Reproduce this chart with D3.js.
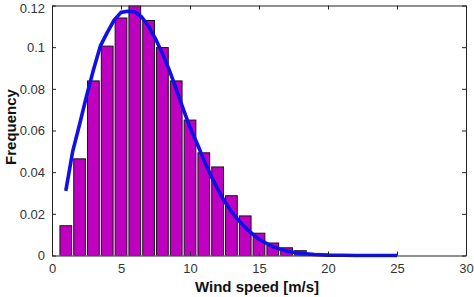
<!DOCTYPE html>
<html>
<head>
<meta charset="utf-8">
<script src="https://cdn.jsdelivr.net/npm/d3@7"></script>
<style>
  body { margin: 0; background: #fff; }
  svg { display: block; font-family: Arial, "Liberation Sans", sans-serif; }
  .tick text { fill: #333; font-size: 13px; }
  .tick line { stroke: #222; }
  .domain { stroke: #222; }
</style>
</head>
<body>
<div id="chart"></div>
<script>
var width = 474, height = 297;
var margin = {top: 5.5, right: 8, bottom: 41.5, left: 52};

// histogram bars (bin centre, relative frequency)
var binCenters = [1, 2, 3, 4, 5, 6, 7, 8, 9, 10, 11, 12, 13, 14, 15, 16, 17, 18, 19, 20];
var binFreq = [0.0143, 0.0464, 0.0838, 0.1005, 0.114, 0.121, 0.1128, 0.0998, 0.0838, 0.065,
               0.0493, 0.0425, 0.0287, 0.019, 0.0107, 0.006, 0.0037, 0.0023, 0.001, 0.0005];

// fitted curve
var fitX = [1, 1.5, 2, 2.5, 3, 3.5, 4, 4.5, 5, 5.5, 6, 6.5, 7, 7.5, 8, 8.5, 9, 9.5, 10, 10.5, 11, 11.5, 12, 12.5,
            13, 13.5, 14, 14.5, 15, 16, 17, 18, 19, 20, 21, 22, 23, 24, 25];
var fitY = [0.031, 0.05, 0.063, 0.0765, 0.089, 0.1005, 0.107, 0.113, 0.1167, 0.1172, 0.117, 0.1145, 0.11, 0.104,
            0.097, 0.089, 0.08, 0.0705, 0.0615, 0.054, 0.046, 0.0385, 0.032, 0.026, 0.021, 0.017, 0.0135, 0.0105,
            0.0078, 0.0042, 0.0021, 0.001, 0.0005, 0.0002, 0.0001, 0, 0, 0, 0];

var xTicks = [0, 5, 10, 15, 20, 25, 30];
var yTicks = [0, 0.02, 0.04, 0.06, 0.08, 0.1, 0.12];

var svg = d3.select('#chart').append('svg')
  .attr('width', width)
  .attr('height', height);

var x = d3.scaleLinear().domain([0, 30]).range([margin.left, width - margin.right]);
var y = d3.scaleLinear().domain([0, 0.12]).range([height - margin.bottom, margin.top]);

svg.append('clipPath').attr('id', 'plotclip')
  .append('rect')
  .attr('x', x(0)).attr('y', y(0.12))
  .attr('width', x(30) - x(0)).attr('height', y(0) - y(0.12));

var barW = 0.85;
svg.append('g').attr('clip-path', 'url(#plotclip)')
  .selectAll('rect')
  .data(binCenters)
  .enter()
  .append('rect')
  .attr('x', function (d) { return x(d - barW / 2); })
  .attr('width', function (d) { return x(d + barW / 2) - x(d - barW / 2); })
  .attr('y', function (d, i) { return y(binFreq[i]); })
  .attr('height', function (d, i) { return y(0) - y(binFreq[i]); })
  .style('fill', '#c000c0')
  .style('stroke', '#1a101a')
  .style('stroke-width', 1);

var line = d3.line()
  .x(function (d) { return x(d); })
  .y(function (d, i) { return y(fitY[i]); });

svg.append('path')
  .datum(fitX)
  .attr('d', line)
  .style('fill', 'none')
  .style('stroke', '#1010e8')
  .style('stroke-width', 3.6)
  .style('stroke-linejoin', 'round');

// axes, ticks pointing inwards like matlab
svg.append('g')
  .attr('transform', 'translate(0,' + y(0) + ')')
  .call(d3.axisBottom(x).tickValues(xTicks).tickSize(-4).tickSizeOuter(0).tickPadding(8).tickFormat(d3.format('d')));

var yAxisG = svg.append('g')
  .attr('transform', 'translate(' + x(0) + ',0)')
  .call(d3.axisLeft(y).tickValues(yTicks).tickSize(-4).tickSizeOuter(0).tickPadding(7).tickFormat(function (d) { return d === 0 ? '0' : d3.format('.2~f')(d); }));
// top label sits right at the edge, nudge it in a bit
yAxisG.selectAll('.tick text').filter(function (d) { return d === 0.12; }).attr('dy', '0.5em');

svg.append('g')
  .attr('transform', 'translate(0,' + y(0.12) + ')')
  .call(d3.axisTop(x).tickValues(xTicks).tickSize(-4).tickSizeOuter(0).tickFormat(''));

svg.append('g')
  .attr('transform', 'translate(' + x(30) + ',0)')
  .call(d3.axisRight(y).tickValues(yTicks).tickSize(-4).tickSizeOuter(0).tickFormat(''));

svg.append('text')
  .attr('x', 257)
  .attr('y', 292)
  .style('text-anchor', 'middle')
  .style('font-weight', 'bold')
  .style('font-size', '15px')
  .style('fill', '#111')
  .text('Wind speed [m/s]');

svg.append('text')
  .attr('transform', 'rotate(-90)')
  .attr('x', -127)
  .attr('y', 16)
  .style('text-anchor', 'middle')
  .style('font-weight', 'bold')
  .style('font-size', '15px')
  .style('fill', '#111')
  .text('Frequency');
</script>
</body>
</html>
